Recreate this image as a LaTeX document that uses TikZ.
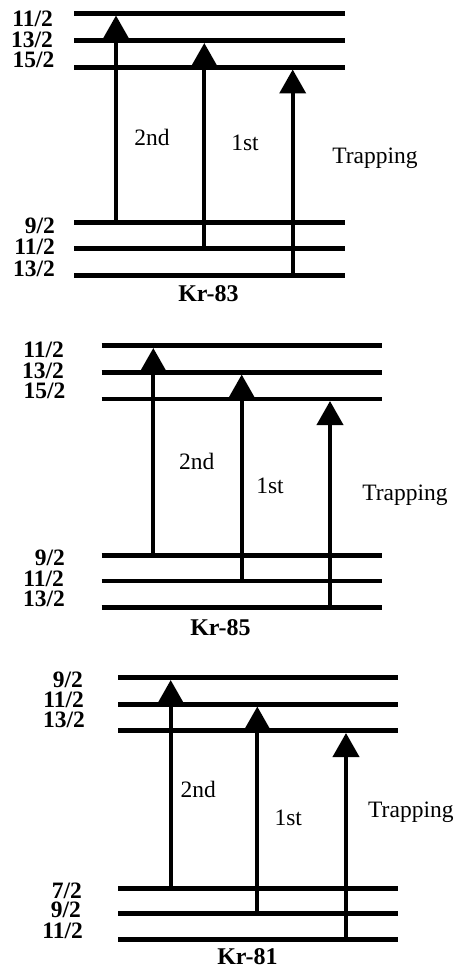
\documentclass[tikz,border=0pt]{standalone}
\usepackage{fontspec}
\setmainfont{Liberation Serif}
\usetikzlibrary{arrows.meta}
\begin{document}
\begin{tikzpicture}[x=1pt,y=-1pt,
  level/.style={line width=4.6pt},
  trans/.style={line width=4pt,-{Triangle[width=26pt,length=24pt]}},
  jlabel/.style={anchor=east,inner sep=0pt,text depth=0pt,font=\fontsize{23.5}{23.5}\selectfont\bfseries},
  steplabel/.style={inner sep=0pt,font=\fontsize{23.5}{23.5}\selectfont},
  isotope/.style={inner sep=0pt,font=\fontsize{24}{24}\selectfont\bfseries}]
\useasboundingbox (0,0) rectangle (456,973);

% ---------- Kr-83 ----------
\foreach \n/\y in {u1/13.3,u2/40.7,u3/67.3,l1/222.3,l2/248.3,l3/275.3}{
  \coordinate (A\n w) at (74,\y);
  \coordinate (A\n e) at (345,\y);
  \draw[level] (A\n w) -- (A\n e);
}
\coordinate (A2s) at (116,222.3);   \coordinate (A2t) at (116,15.5);
\coordinate (A1s) at (204.3,248.3); \coordinate (A1t) at (204.3,43);
\coordinate (ATs) at (292.7,275.3); \coordinate (ATt) at (292.7,69.5);
\draw[trans] (A2s) -- (A2t);
\draw[trans] (A1s) -- (A1t);
\draw[trans] (ATs) -- (ATt);
\node[jlabel] (Aj1) at (53,19) {11/2};
\node[jlabel] (Aj2) at (53,39.5) {13/2};
\node[jlabel] (Aj3) at (54.5,60) {15/2};
\node[jlabel] (Aj4) at (55,226) {9/2};
\node[jlabel] (Aj5) at (55,247) {11/2};
\node[jlabel] (Aj6) at (55,268.5) {13/2};
\node[steplabel] (A2nd) at (152,137) {2nd};
\node[steplabel] (A1st) at (245,143) {1st};
\node[steplabel] (Atrap) at (375,158) {Trapping};
\node[isotope] (Aname) at (208.5,294) {Kr-83};

% ---------- Kr-85 ----------
\foreach \n/\y in {u1/345.7,u2/372.3,u3/399,l1/555.7,l2/581,l3/607.3}{
  \coordinate (B\n w) at (101.7,\y);
  \coordinate (B\n e) at (381.7,\y);
  \draw[level] (B\n w) -- (B\n e);
}
\coordinate (B2s) at (153.3,555.7); \coordinate (B2t) at (153.3,348);
\coordinate (B1s) at (241.7,581);   \coordinate (B1t) at (241.7,374.5);
\coordinate (BTs) at (330,607.3);   \coordinate (BTt) at (330,401);
\draw[trans] (B2s) -- (B2t);
\draw[trans] (B1s) -- (B1t);
\draw[trans] (BTs) -- (BTt);
\node[jlabel] (Bj1) at (64,350) {11/2};
\node[jlabel] (Bj2) at (64,371) {13/2};
\node[jlabel] (Bj3) at (65.5,391) {15/2};
\node[jlabel] (Bj4) at (65,558) {9/2};
\node[jlabel] (Bj5) at (64,579) {11/2};
\node[jlabel] (Bj6) at (65,599) {13/2};
\node[steplabel] (B2nd) at (196.7,461) {2nd};
\node[steplabel] (B1st) at (270,485.7) {1st};
\node[steplabel] (Btrap) at (405,495) {Trapping};
\node[isotope] (Bname) at (220.5,628) {Kr-85};

% ---------- Kr-81 ----------
\foreach \n/\y in {u1/677.7,u2/704.3,u3/730.7,l1/888.3,l2/913.3,l3/939.3}{
  \coordinate (C\n w) at (118.3,\y);
  \coordinate (C\n e) at (398.3,\y);
  \draw[level] (C\n w) -- (C\n e);
}
\coordinate (C2s) at (170.7,888.3); \coordinate (C2t) at (170.7,680);
\coordinate (C1s) at (257.3,913.3); \coordinate (C1t) at (257.3,706.5);
\coordinate (CTs) at (346,939.3);   \coordinate (CTt) at (346,733);
\draw[trans] (C2s) -- (C2t);
\draw[trans] (C1s) -- (C1t);
\draw[trans] (CTs) -- (CTt);
\node[jlabel] (Cj1) at (83,680) {9/2};
\node[jlabel] (Cj2) at (84,700) {11/2};
\node[jlabel] (Cj3) at (85,720) {13/2};
\node[jlabel] (Cj4) at (82,891) {7/2};
\node[jlabel] (Cj5) at (81,910) {9/2};
\node[jlabel] (Cj6) at (83,931) {11/2};
\node[steplabel] (C2nd) at (198.3,789) {2nd};
\node[steplabel] (C1st) at (288.3,818) {1st};
\node[steplabel,anchor=west] (Ctrap) at (368,812.7) {Trapping};
\node[isotope] (Cname) at (247.5,957) {Kr-81};
\end{tikzpicture}
\end{document}
